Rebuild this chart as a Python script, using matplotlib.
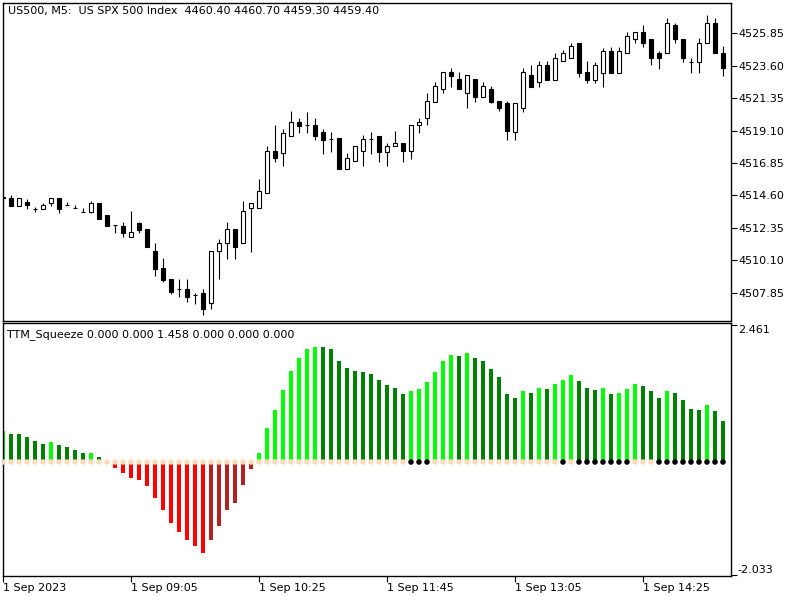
import numpy as np
import matplotlib.pyplot as plt

plt.rcParams['font.family'] = ['DejaVu Sans']

# US500 M5, 1 Sep 2023 - 91 bars (open / high / low / close)
opens = [4514.42, 4514.40, 4513.88, 4514.14, 4513.63, 4513.63, 4514.09, 4514.40, 4513.93, 4513.70,
         4513.43, 4513.47, 4514.07, 4513.26, 4512.57, 4512.48, 4511.73, 4512.71, 4512.29, 4510.74,
         4509.56, 4508.80, 4508.10, 4508.10, 4507.67, 4507.81, 4507.11, 4510.72, 4511.27, 4512.25,
         4511.27, 4513.70, 4513.70, 4514.73, 4517.66, 4517.52, 4518.70, 4519.67, 4519.49, 4519.49,
         4519.00, 4518.49, 4518.58, 4516.45, 4516.97, 4517.66, 4518.49, 4518.70, 4517.59, 4518.01,
         4518.24, 4517.66, 4519.49, 4519.95, 4521.10, 4521.96, 4523.14, 4522.68, 4521.69, 4522.68,
         4521.45, 4521.96, 4521.15, 4520.99, 4519.00, 4520.64, 4522.94, 4522.47, 4523.63, 4522.61,
         4523.91, 4524.12, 4525.16, 4523.16, 4522.61, 4523.11, 4524.62, 4523.11, 4524.46, 4525.43,
         4525.92, 4525.43, 4524.46, 4524.46, 4526.43, 4525.43, 4523.88, 4523.88, 4525.16, 4526.58,
         4524.46]
highs = [4514.63, 4514.63, 4514.40, 4514.35, 4513.81, 4514.09, 4514.40, 4514.40, 4514.14, 4513.93,
         4513.70, 4514.19, 4514.07, 4513.26, 4512.57, 4512.73, 4513.52, 4512.75, 4512.29, 4511.30,
         4510.25, 4508.80, 4508.80, 4508.80, 4507.81, 4508.12, 4510.74, 4511.57, 4512.75, 4512.25,
         4514.21, 4514.05, 4515.72, 4518.03, 4519.49, 4519.21, 4520.46, 4519.97, 4520.39, 4519.97,
         4519.21, 4519.00, 4518.58, 4517.52, 4518.01, 4518.77, 4519.00, 4518.70, 4518.24, 4519.07,
         4518.24, 4519.49, 4519.95, 4521.69, 4522.49, 4523.14, 4523.42, 4523.14, 4522.96, 4522.68,
         4522.45, 4522.19, 4521.15, 4521.13, 4520.99, 4523.42, 4523.64, 4523.93, 4523.93, 4524.50,
         4524.69, 4525.16, 4525.16, 4523.93, 4523.86, 4524.81, 4524.92, 4524.92, 4525.92, 4525.92,
         4526.43, 4525.43, 4524.64, 4526.89, 4526.58, 4525.43, 4524.12, 4525.50, 4527.12, 4526.89,
         4524.97]
lows = [4514.21, 4513.88, 4513.88, 4513.63, 4513.43, 4513.63, 4513.88, 4513.38, 4513.90, 4513.70,
        4513.43, 4513.38, 4512.98, 4512.50, 4512.01, 4511.73, 4511.73, 4512.01, 4511.04, 4509.03,
        4508.61, 4507.78, 4507.57, 4507.22, 4507.08, 4506.28, 4506.74, 4508.78, 4510.21, 4510.21,
        4511.27, 4510.69, 4513.70, 4514.73, 4516.94, 4516.66, 4518.70, 4518.95, 4518.95, 4518.42,
        4517.49, 4517.63, 4516.45, 4516.45, 4516.97, 4516.66, 4517.49, 4516.94, 4516.66, 4518.01,
        4516.94, 4517.15, 4518.95, 4519.46, 4521.10, 4521.69, 4522.14, 4521.96, 4520.64, 4521.10,
        4521.45, 4520.99, 4520.46, 4518.44, 4518.44, 4520.41, 4522.14, 4522.14, 4522.61, 4522.61,
        4523.91, 4524.12, 4522.84, 4522.38, 4522.38, 4522.14, 4523.11, 4523.11, 4524.46, 4525.15,
        4524.92, 4523.63, 4523.37, 4524.46, 4525.15, 4523.88, 4523.11, 4523.11, 4525.16, 4524.46,
        4522.89]
closes = [4514.49, 4513.88, 4514.40, 4513.91, 4513.63, 4513.95, 4514.40, 4513.63, 4513.93, 4513.70,
          4513.43, 4514.05, 4512.98, 4512.50, 4512.57, 4512.01, 4512.06, 4512.22, 4511.04, 4509.51,
          4508.75, 4507.92, 4508.10, 4507.57, 4507.67, 4506.74, 4510.74, 4511.30, 4512.25, 4511.04,
          4513.52, 4514.05, 4514.88, 4517.66, 4517.17, 4518.91, 4519.67, 4519.44, 4519.49, 4518.70,
          4518.44, 4518.49, 4516.45, 4517.17, 4518.01, 4518.49, 4518.49, 4517.63, 4518.01, 4518.21,
          4517.66, 4519.49, 4519.67, 4521.13, 4522.19, 4523.14, 4522.91, 4521.96, 4522.96, 4521.45,
          4522.19, 4521.10, 4520.64, 4519.09, 4520.99, 4523.14, 4522.14, 4523.63, 4522.61, 4524.12,
          4524.50, 4524.95, 4523.11, 4522.61, 4523.63, 4524.62, 4523.11, 4524.62, 4525.66, 4525.92,
          4525.15, 4524.12, 4524.12, 4526.58, 4525.43, 4524.12, 4523.88, 4525.16, 4526.58, 4524.46,
          4523.42]

# TTM squeeze momentum histogram
momentum = [0.55, 0.50, 0.50, 0.45, 0.37, 0.33, 0.36, 0.30, 0.27, 0.21,
            0.16, 0.17, 0.09, 0.00, -0.10, -0.19, -0.28, -0.32, -0.44, -0.65,
            -0.87, -1.10, -1.26, -1.40, -1.51, -1.63, -1.40, -1.15, -0.87, -0.73,
            -0.42, -0.12, 0.16, 0.62, 0.94, 1.30, 1.64, 1.87, 2.03, 2.07,
            2.06, 2.03, 1.82, 1.69, 1.64, 1.62, 1.59, 1.48, 1.39, 1.34,
            1.23, 1.28, 1.32, 1.44, 1.62, 1.82, 1.92, 1.91, 1.96, 1.87,
            1.82, 1.68, 1.52, 1.23, 1.16, 1.27, 1.25, 1.34, 1.32, 1.41,
            1.48, 1.57, 1.46, 1.34, 1.30, 1.34, 1.23, 1.25, 1.32, 1.41,
            1.37, 1.27, 1.16, 1.27, 1.25, 1.11, 0.96, 0.94, 1.03, 0.91,
            0.73]
# L = up & rising, G = up & falling, R = down & falling, D = down & rising, N = none
mom_state = ('LGGGGGLGGGGLGN' + 'RRRRRRRRRRRR' + 'DDDDDD' + 'LLLLLLLL' + 'GGGGGGGGGGG'
             + 'LLLLLL' + 'GL' + 'GGGGGG' + 'LGLG' + 'LLL' + 'GGG' + 'LG' + 'LLL' + 'GGG'
             + 'L' + 'GGGG' + 'L' + 'GG')
# bars where the squeeze is on (black dots)
squeeze_bars = [51, 52, 53, 70, 72, 73, 74, 75, 76, 77, 78,
                82, 83, 84, 85, 86, 87, 88, 89, 90]

price_ticks = [4507.85, 4510.10, 4512.35, 4514.60, 4516.85, 4519.10, 4521.35, 4523.60, 4525.85]
time_ticks = [0, 16, 32, 48, 64, 80]
time_labels = ['1 Sep 2023', '1 Sep 09:05', '1 Sep 10:25', '1 Sep 11:45', '1 Sep 13:05', '1 Sep 14:25']

state_colors = {'L': '#00FF00', 'G': '#008000', 'R': '#FF0000', 'D': '#B22222', 'N': '#008000'}

x = np.arange(len(opens))
o = np.array(opens)
c = np.array(closes)

fig = plt.figure(figsize=(8, 6), dpi=100)
ax = fig.add_axes([3 / 800, 1 - 321 / 600, 728 / 800, 318 / 600])
ax2 = fig.add_axes([3 / 800, 1 - 576 / 600, 728 / 800, 253 / 600])

# candles: wicks then bodies
ax.vlines(x, lows, highs, color='black', linewidth=0.8, zorder=1)
up = c > o
down = c < o
flat = c == o
ax.bar(x[up], (c - o)[up], bottom=o[up], width=0.55, color='white', edgecolor='black',
       linewidth=0.8, zorder=2)
ax.bar(x[down], (o - c)[down], bottom=c[down], width=0.55, color='black', edgecolor='black',
       linewidth=0.8, zorder=2)
ax.hlines(o[flat], x[flat] - 0.3, x[flat] + 0.3, color='black', linewidth=0.8, zorder=2)

ax.set_xlim(0, 91)
ax.set_ylim(4505.88, 4527.95)
ax.set_xticks([])
ax.yaxis.tick_right()
ax.set_yticks(price_ticks)
ax.set_yticklabels(['%.2f' % p for p in price_ticks])
ax.tick_params(axis='y', direction='out', length=4, width=0.8, pad=1, labelsize=8)
for s in ax.spines.values():
    s.set_linewidth(1)
ax.text(5 / 728, 1 - 8 / 318, 'US500, M5:  US SPX 500 Index  4460.40 4460.70 4459.30 4459.40',
        transform=ax.transAxes, fontsize=8, va='center', ha='left')

# TTM squeeze panel
bar_colors = [state_colors[s] for s in mom_state]
ax2.bar(x, momentum, width=0.48, color=bar_colors, zorder=1)
dot_colors = ['black' if i in squeeze_bars else '#FFDAB9' for i in x]
ax2.scatter(x, np.zeros(len(x)), s=16, c=dot_colors, linewidths=0, zorder=3)

ax2.set_xlim(0, 91)
ax2.set_ylim(-2.05, 2.50)
ax2.yaxis.tick_right()
ax2.set_yticks([2.461, -2.033])
ax2.set_yticklabels(['2.461', '-2.033'])
ax2.tick_params(axis='y', direction='out', length=4, width=0.8, pad=1, labelsize=8)
labs = ax2.get_yticklabels()
labs[0].set_va('top')
labs[1].set_va('bottom')
ax2.set_xticks(time_ticks)
ax2.set_xticklabels(time_labels, ha='left')
ax2.tick_params(axis='x', direction='out', length=4, width=0.8, pad=1, labelsize=8)
for s in ax2.spines.values():
    s.set_linewidth(1)
ax2.text(4 / 728, 1 - 12 / 253, 'TTM_Squeeze 0.000 0.000 1.458 0.000 0.000 0.000',
         transform=ax2.transAxes, fontsize=8, va='center', ha='left')

fig.savefig('out.png', dpi=100)
